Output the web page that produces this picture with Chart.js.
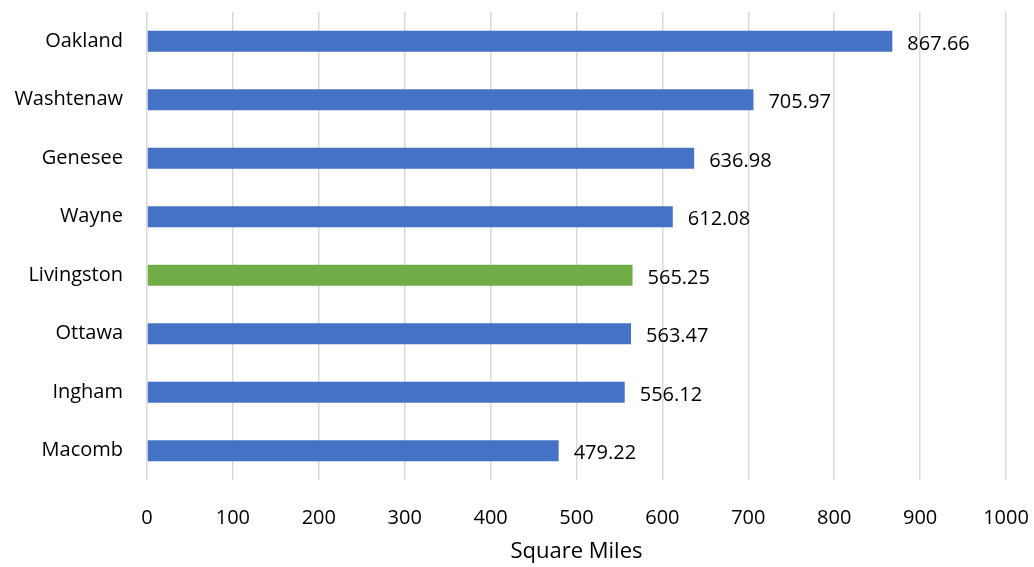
<!DOCTYPE html>
<html><head><meta charset="utf-8">
<script src="https://cdn.jsdelivr.net/npm/chart.js@4/dist/chart.umd.min.js"></script>
<style>html,body{margin:0;padding:0;background:#fff}#w{width:1034px;height:567px}</style>
</head><body><div id="w"><canvas id="c"></canvas></div>
<script>
const categories = ["Oakland","Washtenaw","Genesee","Wayne","Livingston","Ottawa","Ingham","Macomb"];
const values = [867.66,705.97,636.98,612.08,565.25,563.47,556.12,479.22];
const barColors = ["#4472C4","#4472C4","#4472C4","#4472C4","#70AD47","#4472C4","#4472C4","#4472C4"];
const xTicks = [0,100,200,300,400,500,600,700,800,900,1000];
const axisTitle = "Square Miles";
const FONT = "Open Sans";
const labelPlugin = {
  id:'vlabels',
  afterDatasetsDraw(chart){
    const ctx = chart.ctx; const meta = chart.getDatasetMeta(0);
    ctx.save(); ctx.font = "20px '" + FONT + "'"; ctx.fillStyle = "#000"; ctx.textAlign='left'; ctx.textBaseline='middle';
    meta.data.forEach((bar,i)=>{ ctx.fillText(values[i].toFixed(2), bar.x + 15, bar.y + 3); });
    ctx.restore();
  }
};
new Chart(document.getElementById('c'),{
  type:'bar',
  data:{labels:categories,datasets:[{data:values,backgroundColor:barColors,barPercentage:0.36,categoryPercentage:1}]},
  options:{
    indexAxis:'y',responsive:true,maintainAspectRatio:false,animation:false,
    layout:{padding:{top:12,right:28,left:0,bottom:0}},
    plugins:{legend:{display:false},tooltip:{enabled:false}},
    scales:{
      x:{min:0,max:1000,afterBuildTicks(s){s.ticks=xTicks.map(v=>({value:v}));},
        grid:{color:'#D9D9D9',lineWidth:1.5,drawTicks:false},border:{display:false},
        ticks:{font:{family:FONT,size:20},color:'#000',padding:26,maxRotation:0,autoSkip:false,callback:(v)=>String(v)},
        title:{display:true,text:axisTitle,font:{family:FONT,size:22},color:'#000',padding:{top:0,bottom:2}},
        afterFit(s){s.height=87;s.paddingLeft=0;s.paddingRight=0;s.paddingTop=0;s.paddingBottom=0;}},
      y:{grid:{display:false},border:{display:false},
        ticks:{font:{family:FONT,size:20},color:'#000',padding:16},
        afterFit(s){s.width=147;s.paddingLeft=0;s.paddingRight=0;s.paddingTop=0;s.paddingBottom=0;}}
    }
  },
  plugins:[labelPlugin]
});
</script></body></html>
